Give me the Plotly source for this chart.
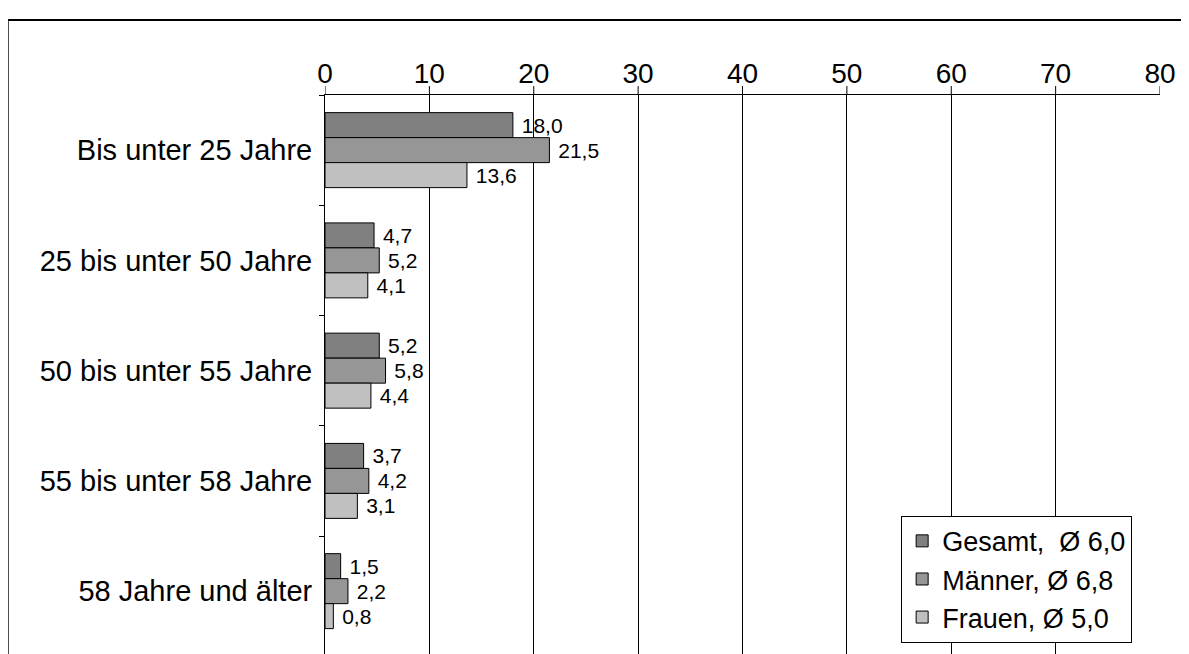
import plotly.graph_objects as go

categories = ['Bis unter 25 Jahre', '25 bis unter 50 Jahre', '50 bis unter 55 Jahre',
              '55 bis unter 58 Jahre', '58 Jahre und älter']
gesamt = [18.0, 4.7, 5.2, 3.7, 1.5]
maenner = [21.5, 5.2, 5.8, 4.2, 2.2]
frauen = [13.6, 4.1, 4.4, 3.1, 0.8]
xticks = [0, 10, 20, 30, 40, 50, 60, 70, 80]

series = [
    ('Gesamt,  Ø 6,0', gesamt, '#808080'),
    ('Männer, Ø 6,8', maenner, '#969696'),
    ('Frauen, Ø 5,0', frauen, '#c0c0c0'),
]

ypos = list(range(len(categories)))

fig = go.Figure()
for name, vals, color in series:
    fig.add_trace(go.Bar(
        x=vals, y=ypos, orientation='h', name=name,
        marker=dict(color=color, line=dict(color='black', width=1)),
        text=[f' {v:.1f}'.replace('.', ',') for v in vals],
        textposition='outside', cliponaxis=False, constraintext='none',
        textangle=0, textfont=dict(size=21, color='black'),
    ))

fig.update_layout(
    width=1189, height=654,
    paper_bgcolor='white', plot_bgcolor='white',
    font=dict(family='Liberation Sans, Arial', color='black'),
    margin=dict(l=317, r=37, t=87, b=8, autoexpand=False),
    barmode='group', bargap=0.32, bargroupgap=0,
    legend=dict(x=0.69, y=0.02, xanchor='left', yanchor='bottom',
                bordercolor='black', borderwidth=1, font=dict(size=27),
                tracegroupgap=0, itemwidth=30),
    xaxis=dict(side='top', range=[0, 80], tickvals=xticks, showgrid=True,
               gridcolor='black', gridwidth=1, zeroline=False, automargin=False,
               tickfont=dict(size=28), ticks='',
               showline=True, linecolor='black'),
    yaxis=dict(range=[4.57, -0.5], tickvals=ypos, ticktext=categories,
               tickfont=dict(size=29), showline=True, linecolor='black',
               showgrid=False, zeroline=False, ticks='', automargin=False,
               ticklabelstandoff=6,
               minor=dict(tickvals=[-0.5, 0.5, 1.5, 2.5, 3.5], ticks='outside',
                          ticklen=5, tickcolor='black', showgrid=False)),
)

# grid lines poke above the top axis line
for xv in xticks:
    fig.add_shape(type='line', xref='x', yref='paper', x0=xv, x1=xv,
                  y0=1, y1=1.016, line=dict(color='black', width=1))

# outer frame
fig.add_shape(type='rect', xref='paper', yref='paper', x0=-0.38, x1=1.035,
              y0=-0.02, y1=1.134, line=dict(color='black', width=2))

fig.write_html('out.html')
